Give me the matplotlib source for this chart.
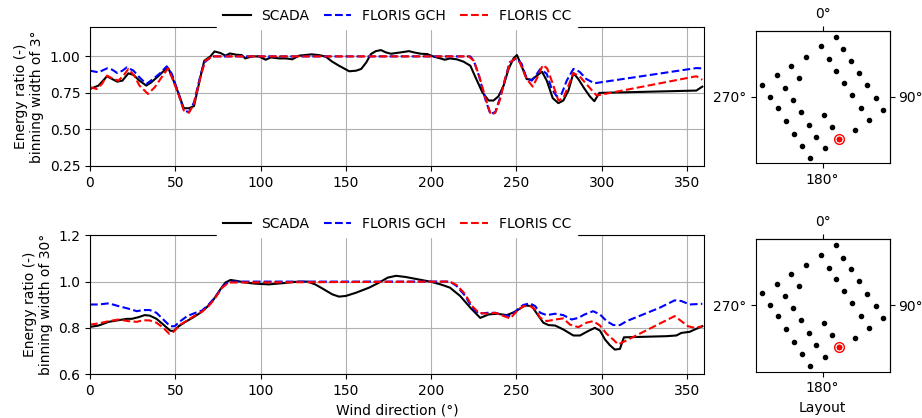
import matplotlib.pyplot as plt

# ---- 3 deg bins (top panel) ----
scada3_wd = [0, 5, 10, 13, 16, 19, 22.5, 25.5, 29, 33, 36, 40, 44, 46, 49, 52, 55, 58, 61, 64.7,
             67, 70.6, 73, 76.5, 79.4, 82, 86, 89, 91, 95, 99, 103, 106, 111, 115, 118.6, 122.5,
             130, 134, 138, 142, 146, 152, 156, 159, 162, 164.7, 167.6, 170.6, 173.5, 176.5,
             179.4, 182, 187, 190, 194, 197.7, 201.6, 205.5, 208, 211, 215, 219, 223, 226, 230,
             233.7, 236.6, 239.5, 242.5, 245.4, 248.3, 250.3, 253, 256, 259, 262, 265, 267.8,
             271.3, 274.6, 277.5, 280.5, 283.4, 286.3, 290, 293, 295.7, 298.6, 355.5, 359]
scada3 = [0.777, 0.80, 0.864, 0.845, 0.827, 0.834, 0.884, 0.873, 0.834, 0.80, 0.823, 0.864, 0.909,
          0.918, 0.834, 0.743, 0.645, 0.645, 0.66, 0.857, 0.97, 1.0, 1.034, 1.023, 1.005, 1.02,
          1.011, 1.009, 0.986, 1.0, 1.0, 0.977, 0.993, 0.986, 0.986, 0.98, 1.005, 1.014, 1.009,
          1.0, 0.964, 0.936, 0.898, 0.902, 0.914, 0.959, 1.016, 1.036, 1.043, 1.027, 1.018,
          1.023, 1.027, 1.036, 1.027, 1.018, 1.016, 0.998, 0.986, 0.977, 0.986, 0.98, 0.964,
          0.936, 0.857, 0.755, 0.698, 0.698, 0.727, 0.80, 0.914, 0.986, 1.009, 0.936, 0.845,
          0.84, 0.868, 0.895, 0.834, 0.714, 0.68, 0.698, 0.766, 0.886, 0.845, 0.777, 0.727,
          0.693, 0.75, 0.766, 0.793]

gch3_wd = [0, 5, 10, 13, 16, 19, 21.6, 25.5, 29, 33, 37, 41, 45, 48, 52, 55, 58, 61, 64.7, 67,
           71.6, 223, 225, 228, 232, 234.7, 237.6, 240.5, 243.4, 246, 250, 253, 256, 259, 262,
           264, 267.8, 270.7, 273.6, 276.5, 279.5, 283.4, 287, 291, 295.7, 355.5, 359]
gch3 = [0.902, 0.891, 0.918, 0.909, 0.886, 0.902, 0.925, 0.902, 0.857, 0.811, 0.845, 0.884, 0.932,
        0.88, 0.743, 0.63, 0.618, 0.686, 0.868, 0.959, 1.0, 1.0, 0.97, 0.868, 0.698, 0.607, 0.618,
        0.72, 0.845, 0.959, 0.986, 0.95, 0.85, 0.834, 0.88, 0.914, 0.88, 0.777, 0.727, 0.743,
        0.834, 0.914, 0.895, 0.845, 0.816, 0.92, 0.918]

cc3_wd = [0, 4, 7, 10, 13, 16.7, 19.6, 22.5, 26, 29, 34, 38, 42, 45.7, 48, 52, 55, 58, 61, 64.7,
          67.6, 71.6, 222, 225, 228, 232, 235, 237.6, 240.5, 243.4, 246.4, 249.3, 252, 256,
          259.6, 262.3, 265.5, 268, 271, 274.6, 277.5, 280.5, 283.4, 287, 291, 297, 355.5, 359]
cc3 = [0.789, 0.777, 0.811, 0.868, 0.85, 0.834, 0.868, 0.914, 0.868, 0.80, 0.743, 0.789, 0.857,
       0.918, 0.857, 0.736, 0.63, 0.614, 0.675, 0.857, 0.97, 1.0, 1.0, 0.97, 0.873, 0.709, 0.60,
       0.614, 0.709, 0.85, 0.959, 0.986, 0.959, 0.845, 0.793, 0.857, 0.941, 0.918, 0.823, 0.698,
       0.714, 0.80, 0.886, 0.864, 0.811, 0.732, 0.864, 0.84]

# ---- 30 deg bins (bottom panel) ----
scada30_wd = [0, 5, 11, 16.7, 21.6, 24.5, 28.4, 32, 35, 39, 43, 47, 49, 52, 56, 60, 64.7, 68.6,
              72.5, 76.5, 79.4, 82.4, 86, 91, 97, 105, 112.7, 120.6, 127.5, 132, 137, 142, 146,
              150, 156, 163.7, 169.6, 174.5, 179.4, 185, 190, 200, 205.5, 211, 217, 223, 228.8,
              233.7, 238.6, 244.4, 249.3, 255, 259, 263, 265.8, 268.8, 272.7, 277.5, 283.4,
              287.3, 292, 296, 299, 302, 304.8, 307.7, 310.7, 313, 338, 343.8, 346.7, 351.6,
              355.5, 359]
scada30 = [0.804, 0.81, 0.826, 0.833, 0.839, 0.839, 0.846, 0.855, 0.853, 0.839, 0.814, 0.788,
           0.786, 0.807, 0.826, 0.843, 0.865, 0.89, 0.923, 0.967, 0.996, 1.007, 1.003, 0.996,
           0.991, 0.988, 0.993, 0.999, 1.0, 0.988, 0.967, 0.945, 0.935, 0.938, 0.952, 0.974,
           0.996, 1.017, 1.025, 1.02, 1.013, 0.999, 0.988, 0.974, 0.938, 0.887, 0.843, 0.858,
           0.861, 0.855, 0.87, 0.897, 0.894, 0.851, 0.822, 0.812, 0.81, 0.793, 0.767, 0.767,
           0.786, 0.80, 0.788, 0.749, 0.725, 0.706, 0.709, 0.759, 0.764, 0.767, 0.778, 0.783,
           0.796, 0.807]

gch30_wd = [0, 5, 11, 16.7, 22.5, 27.5, 31, 35, 39, 43, 47, 49.6, 53, 57, 61.8, 65.7, 69.6, 73.5,
            77.5, 81.4, 211, 215, 220, 224, 228, 233, 237.6, 242.5, 246.4, 250, 254, 258, 261,
            264, 267.8, 272.7, 277.5, 282.4, 286.3, 290, 295, 299, 302.9, 306.8, 310.7, 314.6,
            322, 334, 342.8, 346.7, 351.6, 359]
gch30 = [0.901, 0.901, 0.906, 0.894, 0.883, 0.872, 0.877, 0.877, 0.865, 0.836, 0.807, 0.807,
         0.829, 0.851, 0.865, 0.875, 0.901, 0.933, 0.977, 1.0, 1.0, 0.981, 0.938, 0.887, 0.861,
         0.865, 0.865, 0.855, 0.851, 0.875, 0.899, 0.906, 0.894, 0.865, 0.855, 0.861, 0.855,
         0.836, 0.843, 0.858, 0.872, 0.858, 0.829, 0.812, 0.812, 0.829, 0.851, 0.887, 0.919,
         0.916, 0.901, 0.904]

cc30_wd = [0, 5, 11, 16.7, 22.5, 27.5, 31, 35, 39, 43, 46.5, 49, 53, 57, 61.8, 65.7, 69.6, 73.5,
           77.5, 81.4, 211, 215, 220, 224, 228, 233, 237.6, 242.5, 246.4, 250, 254, 258, 261,
           264, 267.8, 272.7, 277.5, 281.4, 286.3, 291, 295, 299, 302.9, 306.8, 309.7, 342.8,
           346.7, 350.6, 354.5, 359]
cc30 = [0.814, 0.819, 0.829, 0.836, 0.829, 0.826, 0.833, 0.832, 0.822, 0.80, 0.774, 0.783, 0.814,
        0.832, 0.855, 0.87, 0.894, 0.93, 0.974, 0.996, 1.0, 0.985, 0.945, 0.894, 0.865, 0.861,
        0.865, 0.851, 0.841, 0.87, 0.894, 0.894, 0.88, 0.843, 0.829, 0.836, 0.841, 0.814, 0.803,
        0.822, 0.829, 0.81, 0.774, 0.749, 0.728, 0.851, 0.829, 0.807, 0.80, 0.807]

# ---- turbine layout (arbitrary units, centred on the farm) ----
layout_x = [39.5, -5.5, 62.5, -49.5, 18.5, 86.5, -94.5, 40.5, 110.5, -136.5, -69.5, 65.5, -181.5,
            134.5, -112.5, 89.5, -158.5, 159.5, -89.5, 114.5, -134.5, 182.5, -65.5, 3.5, 140.5,
            -110.5, -41.5, 27.5, 96.5, -85.5, -18.5, 48.5, -61.5, 6.5, -37.5]
layout_y = [180, 152, 143, 121, 113, 109, 93, 79, 72, 65, 57, 43, 37, 35, 28, 5, 0, -3, -8, -32,
            -34, -40, -44, -55, -68, -72, -83, -91, -98, -111, -119, -127, -147, -155, -183]
test_turbine = 31

fig = plt.figure(figsize=(9.22, 4.18), dpi=100)

panels = [
    (0.603, scada3_wd, scada3, gch3_wd, gch3, cc3_wd, cc3,
     "Energy ratio (-)\nbinning width of 3°", (0.25, 1.2), [0.25, 0.5, 0.75, 1.0]),
    (0.105, scada30_wd, scada30, gch30_wd, gch30, cc30_wd, cc30,
     "Energy ratio (-)\nbinning width of 30°", (0.6, 1.2), [0.6, 0.8, 1.0, 1.2]),
]

for i, (bottom, sx, sy, gx, gy, cx, cy, ylab, ylim, yticks) in enumerate(panels):
    ax = fig.add_axes([0.0976, bottom, 0.666, 0.332])
    ax.plot(sx, sy, color='k', lw=1.5, label='SCADA')
    ax.plot(gx, gy, '--', color='b', lw=1.5, label='FLORIS GCH')
    ax.plot(cx, cy, '--', color='r', lw=1.5, label='FLORIS CC')
    ax.set_xlim(0, 360)
    ax.set_ylim(*ylim)
    ax.set_yticks(yticks)
    ax.set_xticks(range(0, 360, 50))
    ax.grid(True)
    ax.set_ylabel(ylab)
    leg = ax.legend(loc='center', bbox_to_anchor=(0.5, 1.08), ncol=3, framealpha=1,
                    fancybox=False, borderaxespad=0, columnspacing=1.0)
    leg.get_frame().set_edgecolor('white')
    if i == 1:
        ax.set_xlabel("Wind direction (°)")

    # layout panel
    lax = fig.add_axes([0.8195, bottom + 0.006, 0.1453, 0.318])
    lax.plot(layout_x, layout_y, 'o', color='k', ms=3)
    lax.plot(layout_x[test_turbine], layout_y[test_turbine], 'o', color='r', ms=3)
    lax.plot(layout_x[test_turbine], layout_y[test_turbine], 'o', mfc='none', mec='r',
             ms=7, mew=1)
    lax.set_xlim(-201.5, 201.5)
    lax.set_ylim(-200, 200)
    lax.set_xticks([0])
    lax.set_xticklabels(['180°'])
    lax.set_yticks([0])
    lax.set_yticklabels(['270°'])
    top = lax.secondary_xaxis('top')
    top.set_xticks([0])
    top.set_xticklabels(['0°'])
    right = lax.secondary_yaxis('right')
    right.set_yticks([0])
    right.set_yticklabels(['90°'])
    right.tick_params(pad=2.5)
    if i == 1:
        lax.set_xlabel("Layout")

fig.savefig('out.png', dpi=100)
